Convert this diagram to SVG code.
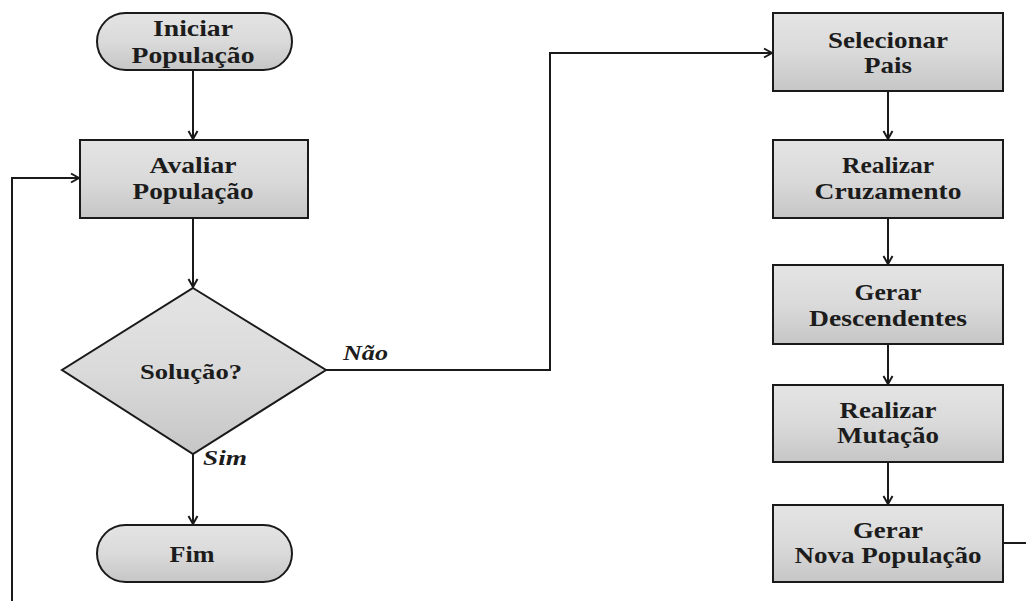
<svg xmlns="http://www.w3.org/2000/svg" width="1026" height="601" viewBox="0 0 1026 601">
<style>
.n{stroke:#1a1a1a;stroke-width:2;fill:url(#g)}
.t{font-family:"Liberation Serif","Times New Roman",serif;font-weight:bold;font-size:23px;fill:#1c1c1c;text-anchor:middle}
.l{font-family:"Liberation Serif","Times New Roman",serif;font-weight:bold;font-style:italic;font-size:21px;fill:#1c1c1c}
.c{stroke:#1a1a1a;stroke-width:2;fill:none}
</style>
<defs>
<linearGradient id="g" x1="0" y1="0" x2="0" y2="1">
<stop offset="0" stop-color="#e4e4e4"/>
<stop offset="0.5" stop-color="#dadada"/>
<stop offset="1" stop-color="#c6c6c6"/>
</linearGradient>
<marker id="a" markerWidth="12" markerHeight="12" refX="10" refY="6" orient="auto" markerUnits="userSpaceOnUse">
<path d="M2,1.5 L10,6 L2,10.5" fill="none" stroke="#1a1a1a" stroke-width="2"/>
</marker>
</defs>
<g id="connectors">
<line class="c" x1="193" y1="70" x2="193" y2="139" marker-end="url(#a)"/>
<line class="c" x1="193" y1="218" x2="193" y2="287" marker-end="url(#a)"/>
<line class="c" x1="193" y1="454" x2="193" y2="524" marker-end="url(#a)"/>
<polyline class="c" points="326,370 550,370 550,53 772,53" marker-end="url(#a)"/>
<polyline class="c" points="12,601 12,178 79,178" marker-end="url(#a)"/>
<line class="c" x1="888" y1="91" x2="888" y2="139" marker-end="url(#a)"/>
<line class="c" x1="888" y1="218" x2="888" y2="264" marker-end="url(#a)"/>
<line class="c" x1="888" y1="344" x2="888" y2="384" marker-end="url(#a)"/>
<line class="c" x1="888" y1="462" x2="888" y2="504" marker-end="url(#a)"/>
<line class="c" x1="1003" y1="543" x2="1026" y2="543"/>
<text class="l" x="343" y="360" textLength="45" lengthAdjust="spacingAndGlyphs">Não</text>
<text class="l" x="203" y="465" textLength="44" lengthAdjust="spacingAndGlyphs">Sim</text>
</g>
<g id="iniciar">
<rect class="n" x="97" y="13" width="195" height="57" rx="28.5"/>
<text class="t" x="193" y="36" textLength="80" lengthAdjust="spacingAndGlyphs">Iniciar</text>
<text class="t" x="193" y="63" textLength="123" lengthAdjust="spacingAndGlyphs">População</text>
</g>
<g id="avaliar">
<rect class="n" x="80" y="140" width="228" height="78"/>
<text class="t" x="193" y="173" textLength="87" lengthAdjust="spacingAndGlyphs">Avaliar</text>
<text class="t" x="193" y="199" textLength="121" lengthAdjust="spacingAndGlyphs">População</text>
</g>
<g id="solucao">
<polygon class="n" points="193,288 326,370 193,454 62,370"/>
<text class="t" x="191" y="379" textLength="102" lengthAdjust="spacingAndGlyphs" style="font-size:21px">Solução?</text>
</g>
<g id="fim">
<rect class="n" x="97" y="525" width="195" height="57" rx="28.5"/>
<text class="t" x="192" y="562" textLength="45" lengthAdjust="spacingAndGlyphs">Fim</text>
</g>
<g id="selecionar">
<rect class="n" x="773" y="13" width="230" height="78"/>
<text class="t" x="888" y="48" textLength="120" lengthAdjust="spacingAndGlyphs">Selecionar</text>
<text class="t" x="888" y="73" textLength="48" lengthAdjust="spacingAndGlyphs">Pais</text>
</g>
<g id="cruzamento">
<rect class="n" x="773" y="140" width="230" height="78"/>
<text class="t" x="888" y="173" textLength="92" lengthAdjust="spacingAndGlyphs">Realizar</text>
<text class="t" x="888" y="199" textLength="147" lengthAdjust="spacingAndGlyphs">Cruzamento</text>
</g>
<g id="descendentes">
<rect class="n" x="773" y="265" width="230" height="79"/>
<text class="t" x="888" y="300" textLength="67" lengthAdjust="spacingAndGlyphs">Gerar</text>
<text class="t" x="888" y="326" textLength="158" lengthAdjust="spacingAndGlyphs">Descendentes</text>
</g>
<g id="mutacao">
<rect class="n" x="773" y="385" width="230" height="77"/>
<text class="t" x="888" y="418" textLength="97" lengthAdjust="spacingAndGlyphs">Realizar</text>
<text class="t" x="888" y="443" textLength="102" lengthAdjust="spacingAndGlyphs">Mutação</text>
</g>
<g id="novapop">
<rect class="n" x="773" y="505" width="230" height="77"/>
<text class="t" x="888" y="538" textLength="70" lengthAdjust="spacingAndGlyphs">Gerar</text>
<text class="t" x="888" y="563" textLength="187" lengthAdjust="spacingAndGlyphs">Nova População</text>
</g>
</svg>
